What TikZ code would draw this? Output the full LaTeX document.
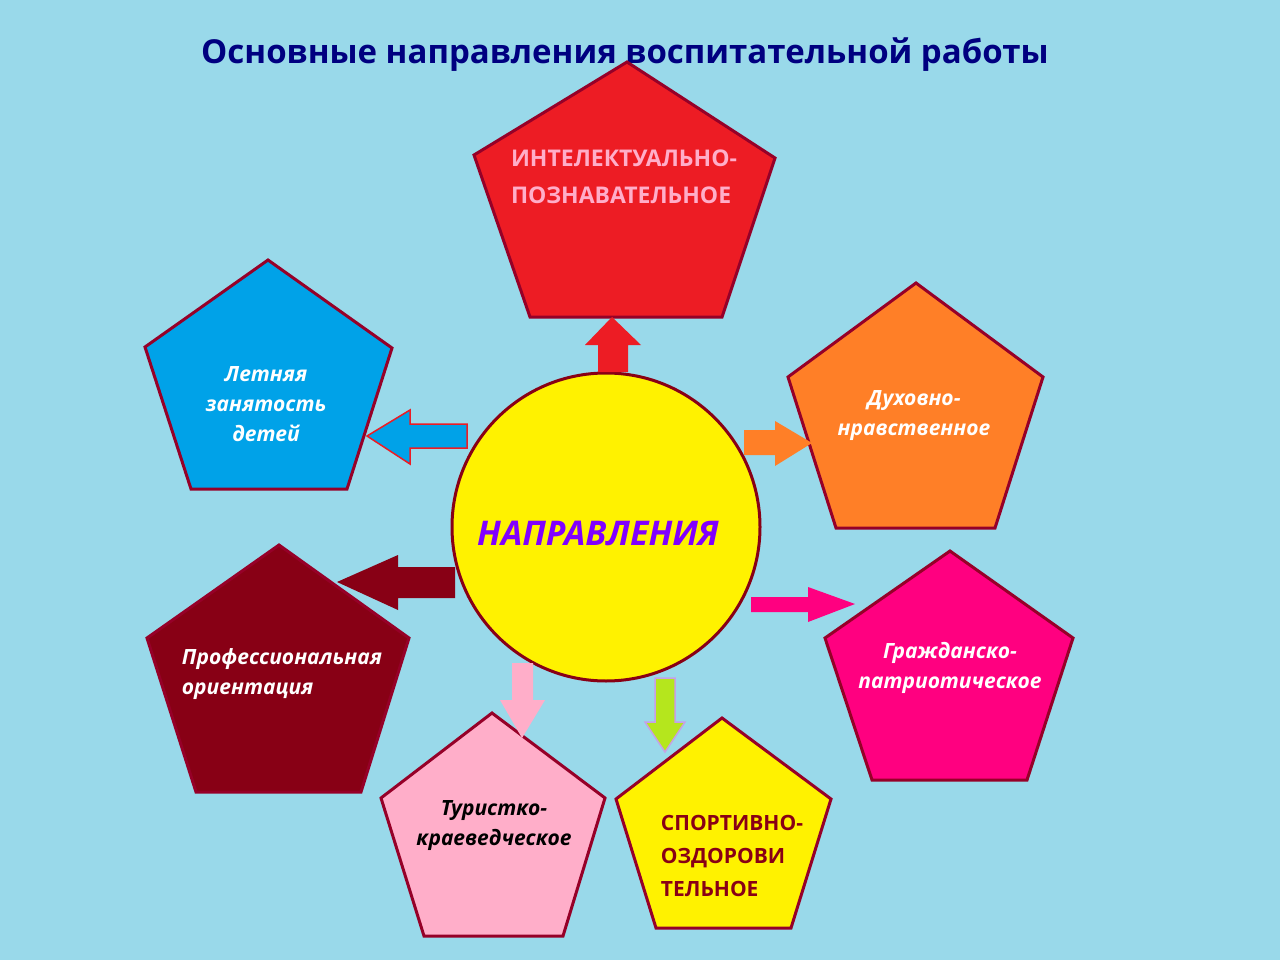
\documentclass[tikz,border=0pt]{standalone}
\usepackage{fontspec}
\setmainfont{Open Sans}
\begin{document}
\begin{tikzpicture}[x=1pt,y=-1pt,
 pent/.style={draw=pdr,line width=3pt,line join=miter},
 arr/.style={line width=1.5pt},
 lab/.style={font=\bfseries\itshape\fontsize{21}{30}\selectfont,text=white,align=left}]
\definecolor{bg}{RGB}{153,217,234}
\definecolor{dr}{RGB}{136,0,21}
\definecolor{pdr}{RGB}{150,0,40}
\definecolor{cred}{RGB}{237,28,36}
\definecolor{cblue}{RGB}{0,162,232}
\definecolor{corange}{RGB}{255,127,39}
\definecolor{cmag}{RGB}{255,0,128}
\definecolor{cpink}{RGB}{255,174,201}
\definecolor{cyel}{RGB}{255,242,0}
\definecolor{cgreen}{RGB}{181,230,29}
\definecolor{clil}{RGB}{200,160,230}
\definecolor{cpur}{RGB}{128,0,255}
\definecolor{cnavy}{RGB}{0,0,128}
\fill[bg] (0,0) rectangle (1280,960);
\node (title) at (625,55) {\bfseries\fontsize{33}{38}\selectfont\color{cnavy}Основные направления воспитательной работы};
% pentagons
\filldraw[pent,fill=cred] (627,62)--(775,158)--(722,317)--(530,317)--(474,155)--cycle;
\filldraw[pent,fill=cblue] (268,260)--(392,348)--(347,489)--(191,489)--(145,347)--cycle;
\filldraw[pent,fill=corange] (916,283)--(1043,377)--(995,528)--(836,528)--(788,377)--cycle;
\filldraw[pent,fill=cmag] (950,551)--(1073,638)--(1027,780)--(872,780)--(825,638)--cycle;
\filldraw[pent,fill=dr] (279,545)--(409,638)--(361,792)--(196,792)--(147,638)--cycle;
\filldraw[pent,fill=cpink] (492,713)--(605,798)--(563,936)--(424,936)--(381,798)--cycle;
\filldraw[pent,fill=cyel] (722,718)--(831,799)--(791,928)--(656,928)--(616,799)--cycle;
% circle
\node[circle,minimum size=308pt,fill=cyel,draw=dr,line width=3pt] (c) at (606,527) {};
\node[font=\bfseries\itshape\fontsize{34}{40}\selectfont,text=cpur] (ct) at (598,533) {НАПРАВЛЕНИЯ};
% arrows
\fill[cred] (598,372)--(598,345)--(585,345)--(612,317)--(641,345)--(628,345)--(628,372)--cycle;
\filldraw[arr,fill=cblue,draw=cred] (467,424)--(410,424)--(410,410)--(367,436)--(410,464)--(410,448)--(467,448)--cycle;
\fill[corange] (744,430)--(775,430)--(775,421)--(812,443)--(775,466)--(775,455)--(744,455)--cycle;
\fill[cmag] (751,597)--(808,597)--(808,587)--(855,604)--(808,622)--(808,612)--(751,612)--cycle;
\fill[dr] (455,567)--(398,567)--(398,555)--(337,582)--(398,610)--(398,598)--(455,598)--cycle;
\fill[cpink] (512,663)--(533,663)--(533,700)--(545,700)--(522,738)--(500,700)--(512,700)--cycle;
\filldraw[arr,fill=cgreen,draw=clil] (655,678)--(675,678)--(675,722)--(685,722)--(665,752)--(645,722)--(655,722)--cycle;
% labels
\node[font=\bfseries\fontsize{23}{37}\selectfont,text=cpink,align=left] (t1) at (624,177) {ИНТЕЛЕКТУАЛЬНО-\\ПОЗНАВАТЕЛЬНОЕ};
\node[lab,align=center] (t2) at (266,404) {Летняя\\занятость\\детей};
\node[lab,align=center] (t3) at (914,416) {Духовно-\\нравственное};
\node[lab,align=center] (t4) at (950,668) {Гражданско-\\патриотическое};
\node[lab] (t5) at (282,674) {Профессиональная\\ориентация};
\node[lab,text=black,align=center] (t6) at (494,826) {Туристко-\\краеведческое};
\node[font=\bfseries\fontsize{21}{33}\selectfont,text=dr,align=left] (t7) at (732,856) {СПОРТИВНО-\\ОЗДОРОВИ\\ТЕЛЬНОЕ};
\end{tikzpicture}
\end{document}
